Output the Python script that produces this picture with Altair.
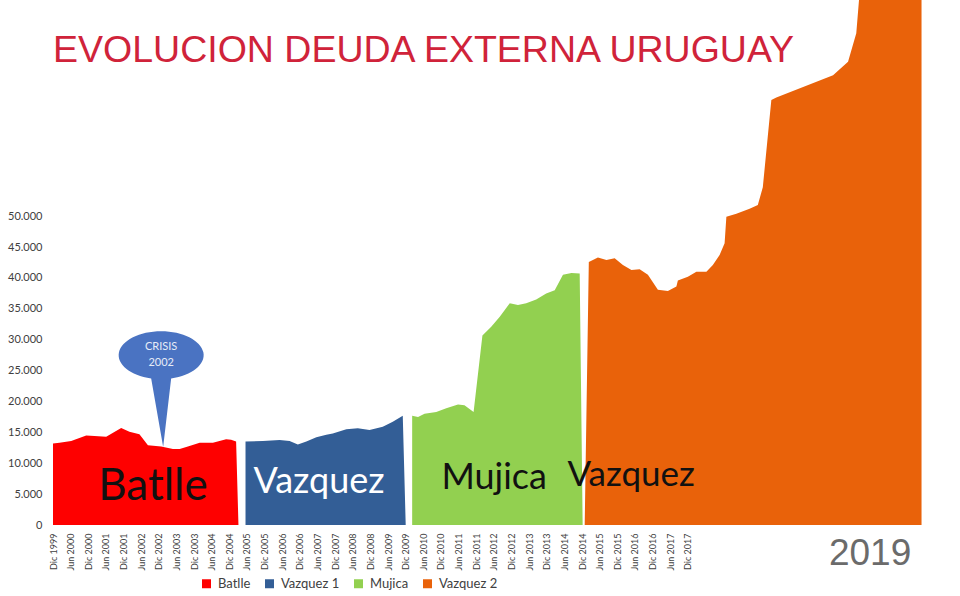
import altair as alt
import pandas as pd

# ---------------- data ----------------
tick_labels = [
    "Dic 1999", "Jun 2000", "Dic 2000", "Jun 2001", "Dic 2001", "Jun 2002", "Dic 2002",
    "Jun 2003", "Dic 2003", "Jun 2004", "Dic 2004", "Jun 2005", "Dic 2005", "Jun 2006",
    "Dic 2006", "Jun 2007", "Dic 2007", "Jun 2008", "Dic 2008", "Jun 2009", "Dic 2009",
    "Jun 2010", "Dic 2010", "Jun 2011", "Dic 2011", "Jun 2012", "Dic 2012", "Jun 2013",
    "Dic 2013", "Jun 2014", "Dic 2014", "Jun 2015", "Dic 2015", "Jun 2016", "Dic 2016",
    "Jun 2017", "Dic 2017",
]

series_names = ["Batlle", "Vazquez 1", "Mujica", "Vazquez 2"]
series_colors = ["#fe0000", "#335e96", "#92d050", "#e9620a"]

# months counted from Dic 1999
batlle_month = [0, 2.2, 6.2, 11.3, 14.1, 18.1, 23.2, 26.0, 29.4, 32.3, 36.8, 40.8,
                43.1, 45.9, 49.9, 54.4, 58.9, 60.6, 62.3, 63.1]
batlle_value = [13200, 13300, 13600, 14500, 14400, 14300, 15700, 15100, 14700, 12900,
                12700, 12300, 12300, 12700, 13300, 13300, 13900, 13800, 13500, 0]

vazquez1_month = [65.5, 71.4, 77.1, 80.5, 83.3, 86.2, 89.6, 93.0, 95.2, 99.8, 103.7,
                  107.7, 112.2, 115.6, 119.0, 120.0]
vazquez1_value = [13500, 13600, 13750, 13600, 13050, 13500, 14200, 14600, 14800, 15500,
                  15650, 15400, 15900, 16700, 17700, 0]

mujica_month = [122.2, 124.2, 126.4, 130.4, 133.8, 137.8, 140.0, 143.1, 146.1, 149.1,
                152.0, 155.4, 158.2, 161.0, 164.4, 167.8, 170.7, 173.5, 176.4, 179.2, 180.2]
mujica_value = [17700, 17500, 18000, 18300, 18900, 19500, 19400, 18300, 30700, 32100,
                33700, 35900, 35600, 35900, 36500, 37500, 38000, 40500, 40800, 40700, 0]

vazquez2_month = [180.9, 182.3, 185.4, 188.3, 191.1, 193.9, 196.8, 199.6, 202.4, 205.8,
                  209.2, 212.1, 212.6, 216.0, 218.9, 222.3, 224.5, 226.8, 228.5, 229.1,
                  232.5, 237.0, 239.8, 241.5, 244.4, 246.1, 265.4, 270.5, 273.3, 274.4,
                  276.0, 295.5]
vazquez2_value = [0, 42600, 43300, 42900, 43200, 42100, 41300, 41400, 40500, 38100,
                  37900, 38600, 39600, 40200, 41000, 41000, 42100, 43700, 45600, 49900,
                  50400, 51200, 51800, 54700, 68800, 69200, 72800, 75000, 79600, 86000,
                  95000, 95000]

y_ticks = [0, 5000, 10000, 15000, 20000, 25000, 30000, 35000, 40000, 45000, 50000]

# ---------------- build table ----------------
rows = []
for name, ms, vs in zip(series_names,
                        [batlle_month, vazquez1_month, mujica_month, vazquez2_month],
                        [batlle_value, vazquez1_value, mujica_value, vazquez2_value]):
    for m, v in zip(ms, vs):
        rows.append({"serie": name, "mes": m, "deuda": v})
df = pd.DataFrame(rows)

x_scale = alt.Scale(domain=[0, 296], nice=False, zero=False)
y_scale = alt.Scale(domain=[0, 85000], nice=False)

label_expr = "[" + ",".join("'" + t + "'" for t in tick_labels) + "][round(datum.value/6)]"

x_axis = alt.Axis(values=[i * 6 for i in range(len(tick_labels))],
                  labelExpr=label_expr, labelAngle=270, labelFont="Lato",
                  labelFontSize=9, labelColor="#404040", labelPadding=8,
                  ticks=False, domain=False, grid=False, title=None,
                  labelOverlap=False, labelFlush=False, labelBound=False)
y_axis = alt.Axis(values=y_ticks,
                  labelExpr="replace(format(datum.value, ','), ',', '.')",
                  labelFont="Lato", labelFontSize=11, labelColor="#404040",
                  labelPadding=11, ticks=False, domain=False, grid=False,
                  title=None, labelOverlap=False)

X = alt.X("mes:Q", scale=x_scale, axis=x_axis)
Y = alt.Y("deuda:Q", scale=y_scale, axis=y_axis, stack=None)

areas = alt.Chart(df).mark_area(clip=True, interpolate="linear", opacity=1).encode(
    x=X, y=Y,
    color=alt.Color("serie:N",
                    scale=alt.Scale(domain=series_names, range=series_colors),
                    legend=alt.Legend(title=None, orient="none", direction="horizontal",
                                      legendX=147, legendY=577, symbolType="square",
                                      symbolSize=81, symbolStrokeWidth=0,
                                      symbolOpacity=1, labelFont="Lato",
                                      labelFontSize=13, labelColor="#404040",
                                      columnPadding=12, labelOffset=5, padding=0)),
)


def text_layer(txt, mes, deuda, **kw):
    d = pd.DataFrame({"mes": [mes], "deuda": [deuda], "t": [txt]})
    return alt.Chart(d).mark_text(**kw).encode(x=X, y=Y, text="t:N")


title = text_layer("EVOLUCION DEUDA EXTERNA URUGUAY", 0, 74960, align="left",
                   baseline="alphabetic", font="Liberation Sans", fontSize=37.5,
                   color="#d0233a")

bubble_df = pd.DataFrame({"mes": [36.8], "deuda": [27500]})
bubble = alt.Chart(bubble_df).mark_point(
    shape="M -0.235 0.549 A 1 0.565 0 1 1 0.235 0.549 L 0.047 2.16 Z",
    size=7225, filled=True, color="#4a73c2", opacity=1, strokeWidth=0,
).encode(x=X, y=Y)

crisis = text_layer("CRISIS\n2002", 36.8, 28800, align="center", baseline="middle",
                    lineBreak="\n", lineHeight=16, font="Lato", fontSize=11,
                    color="#e6ecf7")

t_batlle = text_layer("Batlle", 34.0, 4050, align="center", baseline="alphabetic",
                      font="Lato", fontSize=44, color="#111111")
t_vaz1 = text_layer("Vazquez", 90.5, 5150, align="center", baseline="alphabetic",
                    font="Lato", fontSize=36, color="#ffffff")
t_mujica = text_layer("Mujica", 150.1, 5800, align="center", baseline="alphabetic",
                      font="Lato", fontSize=36, color="#111111")
t_vaz2 = text_layer("Vazquez", 196.7, 6300, align="center", baseline="alphabetic",
                    font="Lato", fontSize=35, color="#111111")

year = text_layer("2019", 278, -6480, align="center", baseline="alphabetic",
                  font="Liberation Sans", fontSize=37, color="#6b6b6b")

chart = alt.layer(areas, bubble, crisis, title, t_batlle, t_vaz1, t_mujica, t_vaz2,
                  year).properties(
    width=870, height=525,
    padding={"left": 53, "top": 0, "right": 37, "bottom": 71},
    autosize=alt.AutoSizeParams(type="none"),
    background="white",
).configure_view(stroke=None)

chart.save("out.html", embed_options={"renderer": "svg", "actions": False})
